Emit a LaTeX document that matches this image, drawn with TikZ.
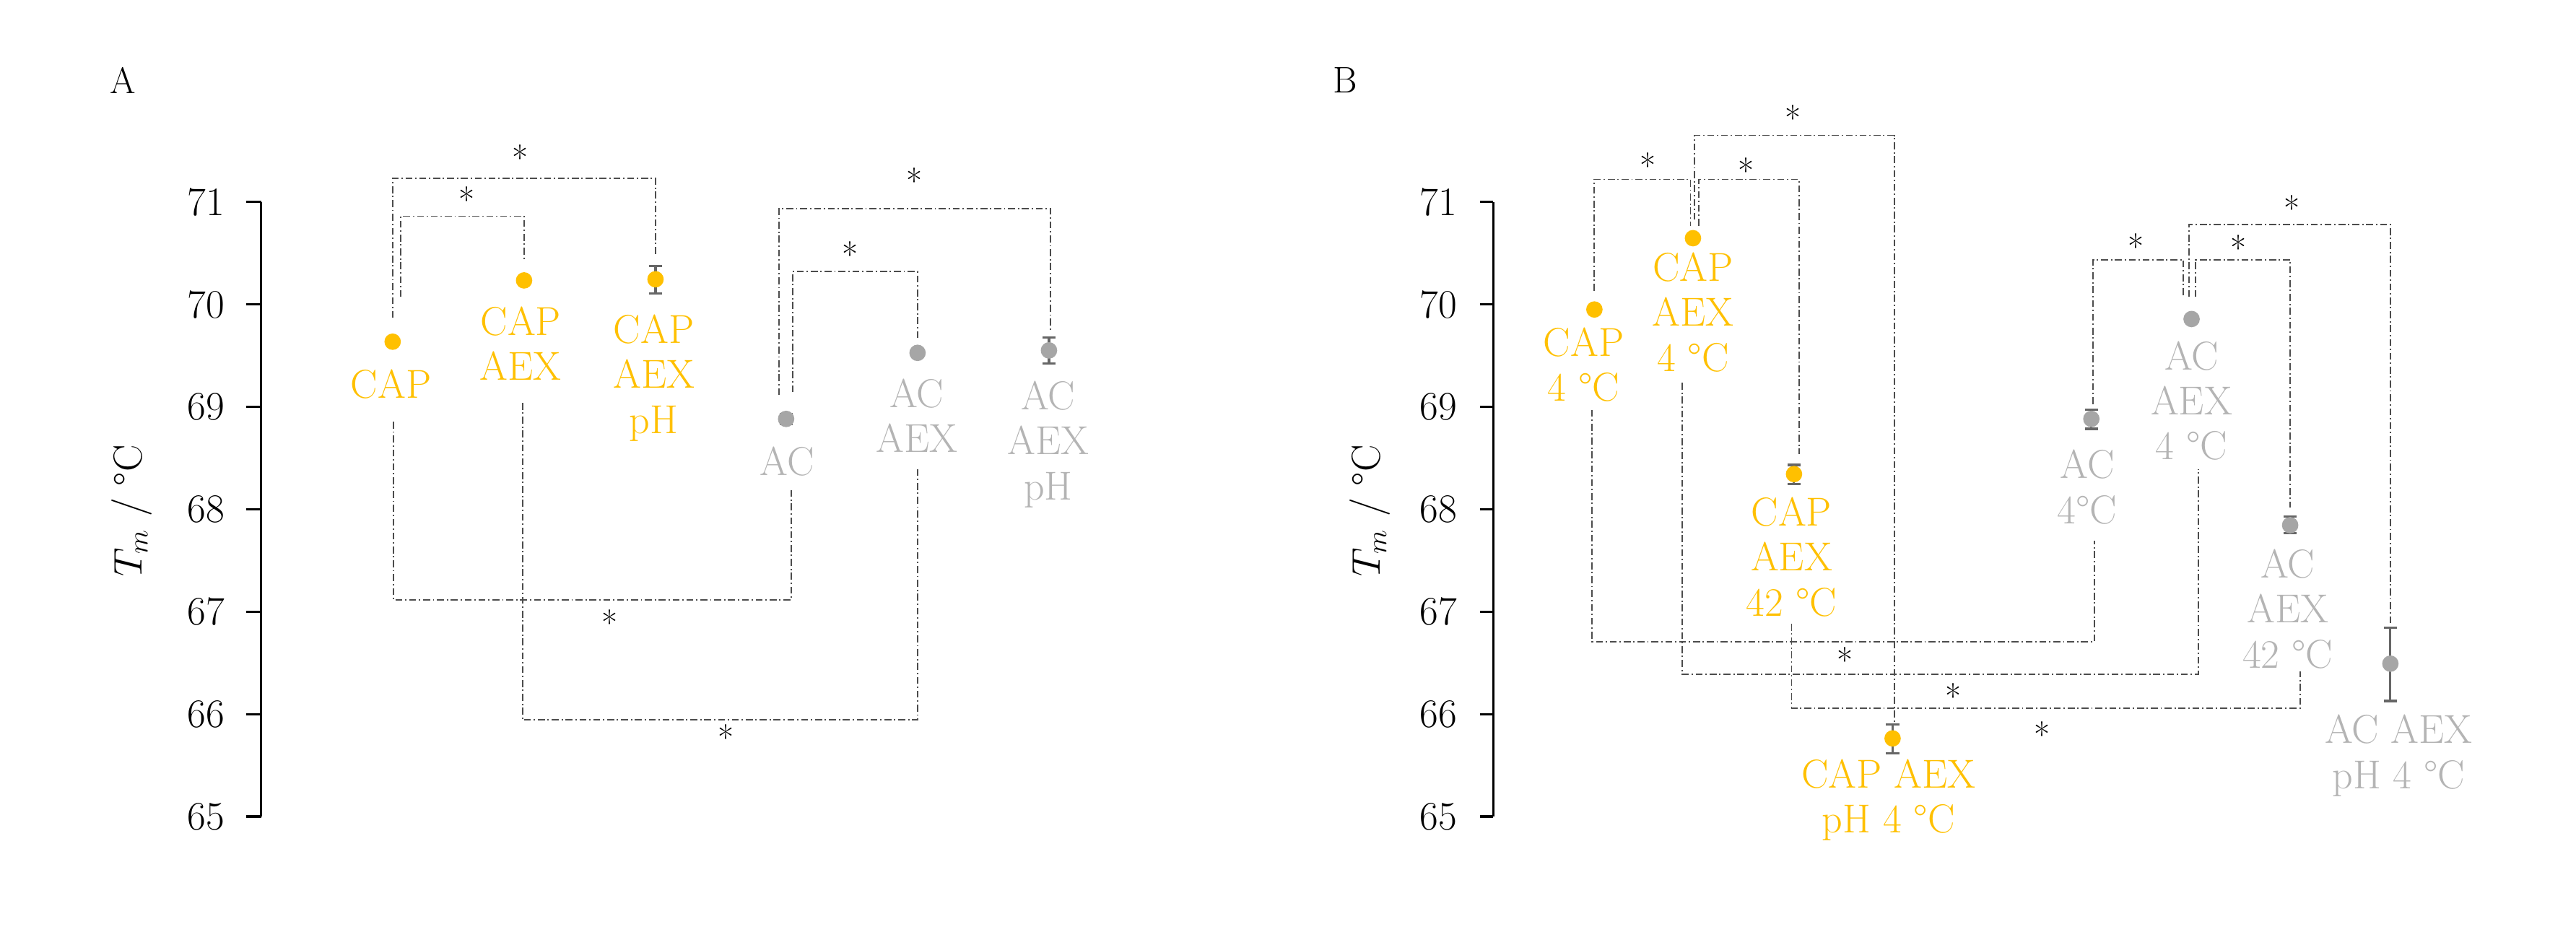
\documentclass[tikz,border=0pt]{standalone}
\usepackage{fontspec}
\setmainfont{Latin Modern Roman}
\begin{document}
\begin{tikzpicture}[x=0.025cm,y=-0.025cm,
  lab/.style={font=\fontsize{17.5}{19.5}\selectfont,align=center,inner sep=0pt},
  yl/.style={lab,text=yellowc},
  gl/.style={lab,text=grayl},
  tick/.style={font=\fontsize{17.5}{18}\selectfont,anchor=east,inner sep=0pt},
  br/.style={line width=0.6pt,draw=black!70,dash pattern=on 3pt off 1.2pt on 0.6pt off 1.2pt},
  star/.style={font=\fontsize{15}{15}\selectfont,inner sep=0pt},
  err/.style={line width=1pt,draw=black!60},
]
\definecolor{yellowc}{HTML}{FFC000}
\definecolor{grayl}{HTML}{B4B4B4}
\definecolor{grayd}{HTML}{A6A6A6}
\useasboundingbox (0,0) rectangle (1568,567);
% ---------- Panel A ----------
\node[font=\fontsize{16}{16}\selectfont] (lA) at (75,49) {A};
\draw[line width=1pt] (159,123) -- (159,497);
\foreach \v/\yy in {71/123,70/185.3,69/247.7,68/310,67/372.3,66/434.7,65/497}{
  \draw[line width=1pt] (150,\yy) -- (159,\yy);
  \node[tick] at (137,\yy) {\v};
}
\node[rotate=90,font=\fontsize{17.5}{18}\selectfont] (yA) at (80,311) {$T_m$ / °C};
% brackets A
\draw[br] (239,193.5) |- (399,108.5) -- (399,154.8);
\draw[br] (244,180.8) |- (319,131.6) -- (319,158);
\draw[br] (474,240.5) |- (639.5,127) -- (639.5,200.7);
\draw[br] (482.5,238.7) |- (558.5,165.3) -- (558.5,206);
\draw[br] (239.5,256.7) |- (481.5,365.2) -- (481.5,298.3);
\draw[br] (318,245.2) |- (558.5,438.3) -- (558.5,285);
\node[star] (sA1) at (316.5,96) {*};
\node[star] (sA2) at (284,121.5) {*};
\node[star] (sA3) at (556.5,110) {*};
\node[star] (sA4) at (517.5,155) {*};
\node[star] (sA5) at (371,379) {*};
\node[star] (sA6) at (442,449) {*};
% error bars A
\draw[err] (399,162) -- (399,178.6) (395,162) -- (403,162) (395,178.6) -- (403,178.6);
\draw[err] (478.5,252) -- (478.5,258) (474.5,252) -- (482.5,252) (474.5,258) -- (482.5,258);
\draw[err] (638.5,205.4) -- (638.5,221.3) (634.5,205.4) -- (642.5,205.4) (634.5,221.3) -- (642.5,221.3);
% points A
\fill[yellowc] (239,208) circle (5);
\fill[yellowc] (319,170.7) circle (5);
\fill[yellowc] (399,170) circle (5);
\fill[grayd] (478.5,255) circle (5);
\fill[grayd] (558.5,214.8) circle (5);
\fill[grayd] (638.5,213.3) circle (5);
% labels A
\node[yl] (tA1) at (238,234) {CAP};
\node[yl] (tA2) at (317,209) {CAP\\AEX};
\node[yl] (tA3) at (398,230) {CAP\\AEX\\pH};
\node[gl] (tA4) at (479,281) {AC};
\node[gl] (tA5) at (558,253) {AC\\AEX};
\node[gl] (tA6) at (638,270.4) {AC\\AEX\\pH};
% ---------- Panel B ----------
\node[font=\fontsize{16}{16}\selectfont] (lB) at (819,49) {B};
\draw[line width=1pt] (909,123) -- (909,497);
\foreach \v/\yy in {71/123,70/185.3,69/247.7,68/310,67/372.3,66/434.7,65/497}{
  \draw[line width=1pt] (901,\yy) -- (909,\yy);
  \node[tick] at (887,\yy) {\v};
}
\node[rotate=90,font=\fontsize{17.5}{18}\selectfont] (yB) at (834,311) {$T_m$ / °C};
% brackets B top
\draw[br] (970.5,177) |- (1029,109.2) -- (1029,137.4);
\draw[br] (1034,137.4) |- (1095,109.2) -- (1095,276.6);
\draw[br] (1031.5,133.8) |- (1153,82.4) -- (1153,441);
\draw[br] (1274,245.9) |- (1329,158) -- (1329,180.8);
\draw[br] (1336.5,180.8) |- (1394,158) -- (1394,309);
\draw[br] (1332.5,180.8) |- (1455,136.7) -- (1455,379.7);
% brackets B bottom
\draw[br] (969,249.5) |- (1275,390.5) -- (1275,329);
\draw[br] (1024,233) |- (1338,410.4) -- (1338,285.7);
\draw[br] (1090.5,379.7) |- (1400,431) -- (1400,408.6);
\node[star] (sB1) at (1003,101) {*};
\node[star] (sB2) at (1063,104) {*};
\node[star] (sB3) at (1091.5,72) {*};
\node[star] (sB4) at (1300,150) {*};
\node[star] (sB5) at (1362.5,151) {*};
\node[star] (sB6) at (1395,127) {*};
\node[star] (sB7) at (1123,402) {*};
\node[star] (sB8) at (1189,424) {*};
\node[star] (sB9) at (1243,447) {*};
% error bars B
\draw[err] (1092,283) -- (1092,294.7) (1088,283) -- (1096,283) (1088,294.7) -- (1096,294.7);
\draw[err] (1152,441) -- (1152,458.5) (1148,441) -- (1156,441) (1148,458.5) -- (1156,458.5);
\draw[err] (1273,249.5) -- (1273,261) (1269,249.5) -- (1277,249.5) (1269,261) -- (1277,261);
\draw[err] (1394,314.6) -- (1394,324.7) (1390,314.6) -- (1398,314.6) (1390,324.7) -- (1398,324.7);
\draw[err] (1455,382.2) -- (1455,426.7) (1451,382.2) -- (1459,382.2) (1451,426.7) -- (1459,426.7);
% points B
\fill[yellowc] (970.5,188.4) circle (5);
\fill[yellowc] (1030.5,145) circle (5);
\fill[yellowc] (1092,288.6) circle (5);
\fill[yellowc] (1152,449.5) circle (5);
\fill[grayd] (1273,255) circle (5);
\fill[grayd] (1334,194.2) circle (5);
\fill[grayd] (1394,319.7) circle (5);
\fill[grayd] (1455,404) circle (5);
% labels B
\node[yl] (tB1) at (964,222) {CAP\\4 °C};
\node[yl] (tB2) at (1030.5,190) {CAP\\AEX\\4 °C};
\node[yl] (tB3) at (1090.5,339) {CAP\\AEX\\42 °C};
\node[yl] (tB4) at (1149.5,487) {CAP AEX\\pH 4 °C};
\node[gl] (tB5) at (1270.5,296.5) {AC\\4°C};
\node[gl] (tB6) at (1334,244) {AC\\AEX\\4 °C};
\node[gl] (tB7) at (1392.5,370.6) {AC\\AEX\\42 °C};
\node[gl] (tB8) at (1460,460) {AC AEX\\pH 4 °C};
\end{tikzpicture}
\end{document}
